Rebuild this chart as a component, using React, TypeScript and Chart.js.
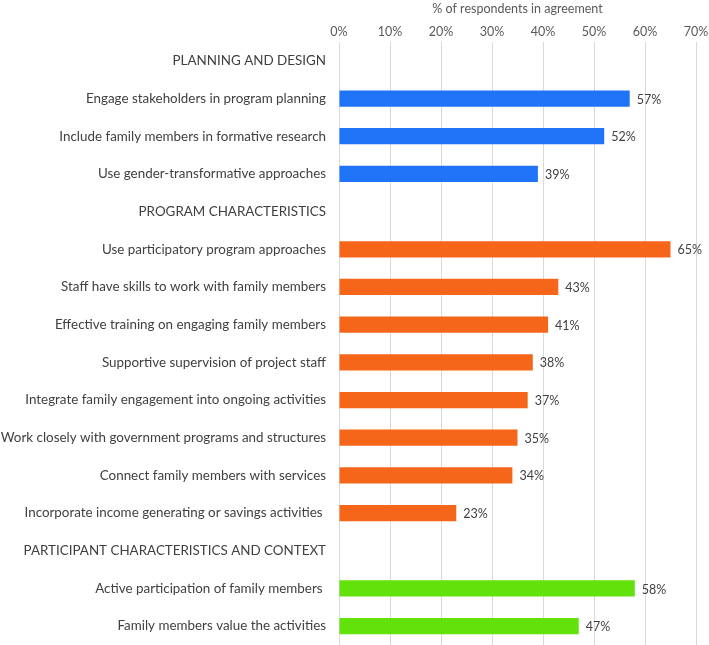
import React, { useEffect, useRef } from "react";
import { Chart, registerables } from "chart.js";

Chart.register(...registerables);

const planningHeader = "PLANNING AND DESIGN";
const planningLabels = [
  "Engage stakeholders in program planning",
  "Include family members in formative research",
  "Use gender-transformative approaches",
];
const planningValues = [57, 52, 39];

const programHeader = "PROGRAM CHARACTERISTICS";
const programLabels = [
  "Use participatory program approaches",
  "Staff have skills to work with family members",
  "Effective training on engaging family members",
  "Supportive supervision of project staff",
  "Integrate family engagement into ongoing activities",
  "Work closely with government programs and structures",
  "Connect family members with services",
  "Incorporate income generating or savings activities ",
];
const programValues = [65, 43, 41, 38, 37, 35, 34, 23];

const participantHeader = "PARTICIPANT CHARACTERISTICS AND CONTEXT";
const participantLabels = [
  "Active participation of family members ",
  "Family members value the activities",
];
const participantValues = [58, 47];

const xTicks = [0, 10, 20, 30, 40, 50, 60, 70];
const axisTitle = "% of respondents in agreement";

const BLUE = "#1f73f6";
const ORANGE = "#f5661b";
const GREEN = "#62e10b";

const FONT = "Lato, 'Open Sans', sans-serif";
const TEXT = "#404040";

export default function App() {
  const ref = useRef<HTMLCanvasElement | null>(null);

  useEffect(() => {
    const labels: string[] = [];
    const data: (number | null)[] = [];
    const colors: string[] = [];
    const addGroup = (h: string, ls: string[], vs: number[], c: string) => {
      labels.push(h);
      data.push(null);
      colors.push(c);
      ls.forEach((l, i) => {
        labels.push(l);
        data.push(vs[i]);
        colors.push(c);
      });
    };
    addGroup(planningHeader, planningLabels, planningValues, BLUE);
    addGroup(programHeader, programLabels, programValues, ORANGE);
    addGroup(participantHeader, participantLabels, participantValues, GREEN);

    const valueLabels = {
      id: "valueLabels",
      afterDatasetsDraw(chart: any) {
        const ctx = chart.ctx;
        const meta = chart.getDatasetMeta(0);
        ctx.save();
        ctx.font = `12.5px ${FONT}`;
        ctx.fillStyle = TEXT;
        ctx.textAlign = "left";
        ctx.textBaseline = "middle";
        meta.data.forEach((el: any, i: number) => {
          const v = data[i];
          if (v == null) return;
          ctx.fillText(`${v}%`, el.x + 7, el.y + 1);
        });
        ctx.restore();
      },
    };

    const chart = new Chart(ref.current!, {
      type: "bar",
      data: {
        labels,
        datasets: [
          {
            data,
            backgroundColor: colors,
            borderWidth: 0,
            barPercentage: 0.43,
            categoryPercentage: 1,
          },
        ],
      },
      options: {
        indexAxis: "y",
        animation: false,
        responsive: false,
        maintainAspectRatio: false,
        layout: { padding: { left: 0, right: 13, top: 0, bottom: 0 } },
        plugins: {
          legend: { display: false },
          tooltip: { enabled: false },
        },
        scales: {
          x: {
            position: "top",
            min: 0,
            max: 70,
            afterBuildTicks: (s: any) => {
              s.ticks = xTicks.map((v) => ({ value: v }));
            },
            afterFit: (s: any) => {
              s.height = 42;
              s.paddingLeft = 0;
              s.paddingRight = 0;
            },
            ticks: {
              callback: (v: any) => `${v}%`,
              font: { family: FONT, size: 12.5 },
              color: "#595959",
              padding: 3,
            },
            grid: { color: "#d9d9d9", drawTicks: false, lineWidth: 1 },
            border: { display: false },
            title: {
              display: true,
              text: axisTitle,
              font: { family: FONT, size: 12.5 },
              color: "#595959",
              padding: { top: 1, bottom: 6 },
            },
          },
          y: {
            afterFit: (s: any) => {
              s.width = 339;
              s.paddingTop = 0;
              s.paddingBottom = 0;
            },
            ticks: {
              font: { family: FONT, size: 13.4 },
              color: TEXT,
              padding: 13,
              autoSkip: false,
            },
            grid: { display: false, drawTicks: false },
            border: { display: true, color: "#d9d9d9" },
          },
        },
      },
      plugins: [valueLabels],
    });
    return () => chart.destroy();
  }, []);

  return (
    <div style={{ position: "fixed", left: 0, top: 0, width: 709, height: 645, background: "#fff" }}>
      <canvas ref={ref} width={709} height={645} />
    </div>
  );
}
